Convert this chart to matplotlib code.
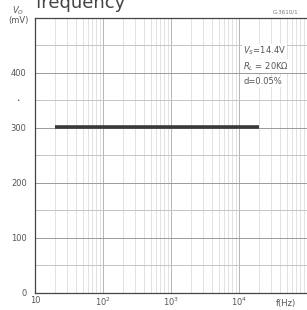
import numpy as np
import matplotlib.pyplot as plt

# flat output level vs frequency (datasheet scan)
freq = [20, 20000]
vout = [302, 302]

ytick_vals = [0, 100, 200, 300, 400]
ytick_labels = ['0', '100', '200', '300', '400']
xtick_vals = [10, 100, 1000, 10000]
xtick_labels = ['10', '$10^2$', '$10^3$', '$10^4$']
conditions = ['$V_S$=14.4V', '$R_L$ = 20K$\\Omega$', 'd=0.05%']

txt = '#555555'
fig = plt.figure(figsize=(3.07, 3.10), dpi=100)
ax = fig.add_axes([0.114, 0.055, 0.886, 0.887])

ax.set_xscale('log')
ax.set_xlim(10, 1e5)
ax.set_ylim(0, 500)

# grid
for d in [10, 100, 1000, 10000]:
    for m in range(2, 10):
        ax.axvline(d * m, color='#dddddd', lw=0.6, zorder=0)
    ax.axvline(d, color='#b5b5b5', lw=0.7, zorder=0)
for y in range(50, 500, 50):
    c = '#9a9a9a' if y % 100 == 0 else '#c4c4c4'
    ax.axhline(y, color=c, lw=0.7, zorder=0)

ax.plot(freq, vout, color='#3a3a3a', lw=2.6, solid_capstyle='butt', zorder=3)

ax.set_xticks(xtick_vals)
ax.set_xticklabels(xtick_labels)
ax.set_yticks(ytick_vals)
ax.set_yticklabels(ytick_labels)
ax.minorticks_off()
ax.tick_params(length=0, labelsize=6, colors=txt)
ax.tick_params(axis='x', pad=2)
ax.tick_params(axis='y', pad=6)
for s in ['left', 'bottom', 'top']:
    ax.spines[s].set_color('#444444')
    ax.spines[s].set_linewidth(0.9)
ax.spines['right'].set_visible(False)

fig.text(0.93, 0.012, 'f(Hz)', fontsize=6, color=txt, ha='center')
ax.text(5.6, 350, '•', fontsize=4, color=txt, ha='center', va='center')
fig.text(0.06, 0.955, '$V_O$', fontsize=6, color=txt, ha='center')
fig.text(0.06, 0.925, '(mV)', fontsize=6, color=txt, ha='center')
fig.text(0.115, 0.99, 'frequency', fontsize=13, color='#444444', ha='left', va='center')
fig.text(0.89, 0.955, 'G-3610/1', fontsize=4, color='#777777', ha='left')

for i, t in enumerate(conditions):
    ax.text(11500, 440 - i * 28, t, fontsize=6, color=txt, va='center',
            bbox=dict(facecolor='white', edgecolor='none', pad=0.5), zorder=4)

fig.savefig('out.png', dpi=100, facecolor='white')
